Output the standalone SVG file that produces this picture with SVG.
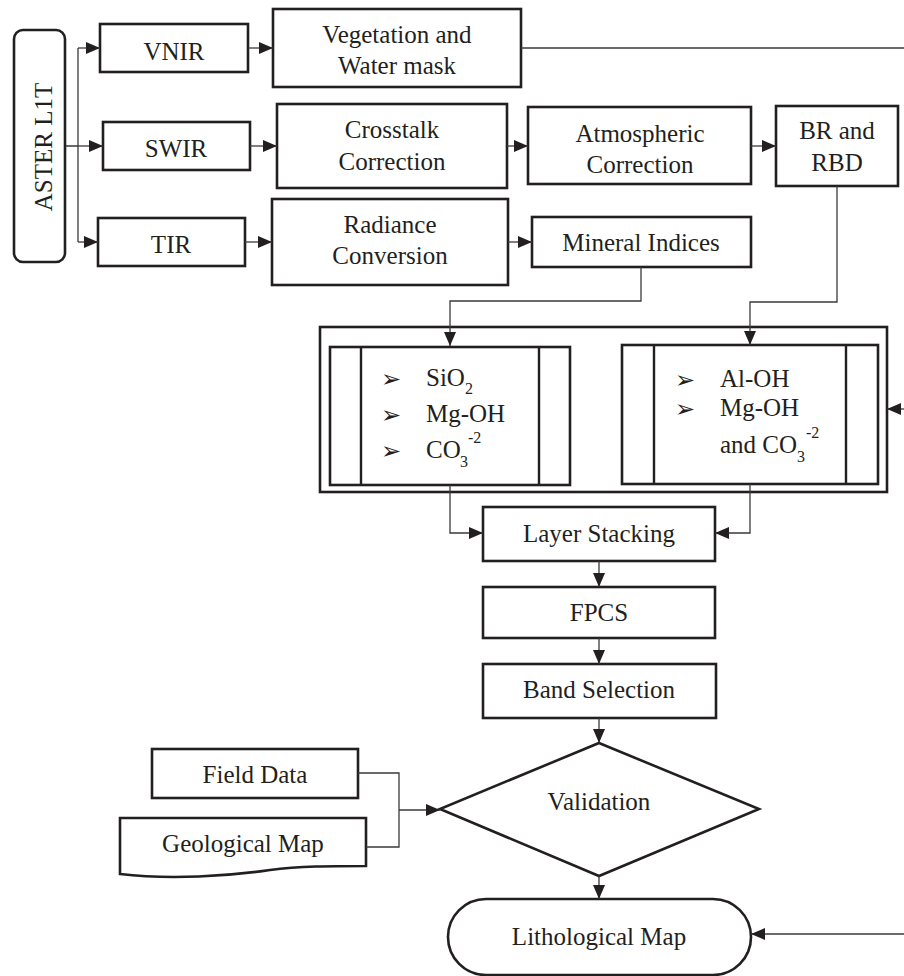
<svg xmlns="http://www.w3.org/2000/svg" width="904" height="976" viewBox="0 0 904 976">
<defs>
<style>
.box{fill:#fff;stroke:#231f20;stroke-width:2.6}
.in{fill:none;stroke:#231f20;stroke-width:2.4}
.t{font-family:"Liberation Serif","Times New Roman",serif;font-size:25px;fill:#231f20;text-anchor:middle}
.l{font-family:"Liberation Serif","Times New Roman",serif;font-size:25px;fill:#231f20}
.s{font-family:"Liberation Serif","Times New Roman",serif;font-size:16px;fill:#231f20}
.b{font-family:"DejaVu Sans",sans-serif;font-size:24px;fill:#231f20}
.c{fill:none;stroke:#3a3a3a;stroke-width:1.3}
</style>
<marker id="a" markerUnits="userSpaceOnUse" markerWidth="14" markerHeight="12" refX="14" refY="6" orient="auto">
<path d="M0,0 L14,6 L0,12 z" fill="#231f20"/>
</marker>
</defs>
<rect width="904" height="976" fill="#fff"/>

<g id="aster">
<rect class="box" x="14" y="30" width="51" height="232" rx="9"/>
<text class="t" transform="translate(52,147) rotate(-90)">ASTER L1T</text>
</g>
<g id="vnir">
<rect class="box" x="100" y="24" width="148" height="48"/>
<text class="t" x="174" y="60">VNIR</text>
</g>
<g id="swir">
<rect class="box" x="103" y="122" width="147" height="48"/>
<text class="t" x="176" y="157">SWIR</text>
</g>
<g id="tir">
<rect class="box" x="98" y="218" width="147" height="48"/>
<text class="t" x="171" y="253">TIR</text>
</g>
<g id="vegetation">
<rect class="box" x="273" y="9" width="248" height="78"/>
<text class="t" x="397" y="43">Vegetation and</text>
<text class="t" x="397" y="74">Water mask</text>
</g>
<g id="crosstalk">
<rect class="box" x="277" y="104" width="230" height="84"/>
<text class="t" x="392" y="138">Crosstalk</text>
<text class="t" x="392" y="170">Correction</text>
</g>
<g id="atmospheric">
<rect class="box" x="528" y="107" width="223" height="77"/>
<text class="t" x="640" y="142">Atmospheric</text>
<text class="t" x="640" y="173">Correction</text>
</g>
<g id="brrbd">
<rect class="box" x="776" y="106" width="122" height="80"/>
<text class="t" x="837" y="139">BR and</text>
<text class="t" x="837" y="171">RBD</text>
</g>
<g id="radiance">
<rect class="box" x="272" y="199" width="236" height="86"/>
<text class="t" x="390" y="233">Radiance</text>
<text class="t" x="390" y="264">Conversion</text>
</g>
<g id="mineral">
<rect class="box" x="532" y="217" width="219" height="50"/>
<text class="t" x="641" y="251">Mineral Indices</text>
</g>

<g id="indices-group">
<rect class="box" x="320" y="327" width="567" height="165"/>
</g>
<g id="indices-left">
<rect class="box" x="330" y="347" width="240" height="138"/>
<path class="in" d="M361,347 V485 M539,347 V485"/>
<text class="b" x="381" y="387">➢</text>
<text class="b" x="381" y="423">➢</text>
<text class="b" x="381" y="459">➢</text>
<text class="l" x="426" y="386">SiO</text>
<text class="s" x="465" y="394">2</text>
<text class="l" x="426" y="422">Mg-OH</text>
<text class="l" x="426" y="458">CO</text>
<text class="s" x="460" y="467">3</text>
<text class="s" x="468" y="443">-2</text>
</g>
<g id="indices-right">
<rect class="box" x="622" y="345" width="256" height="139"/>
<path class="in" d="M654,345 V484 M846,345 V484"/>
<text class="b" x="675" y="388">➢</text>
<text class="b" x="675" y="417">➢</text>
<text class="l" x="720" y="387">Al-OH</text>
<text class="l" x="720" y="416">Mg-OH</text>
<text class="l" x="720" y="453">and CO</text>
<text class="s" x="797" y="462">3</text>
<text class="s" x="806" y="438">-2</text>
</g>

<g id="layer-stacking">
<rect class="box" x="483" y="507" width="232" height="54"/>
<text class="t" x="599" y="542">Layer Stacking</text>
</g>
<g id="fpcs">
<rect class="box" x="483" y="587" width="232" height="51"/>
<text class="t" x="599" y="621">FPCS</text>
</g>
<g id="band-selection">
<rect class="box" x="483" y="664" width="233" height="54"/>
<text class="t" x="599" y="698">Band Selection</text>
</g>
<g id="validation">
<path class="box" d="M599,743 L759,809 L599,876 L440,809 Z"/>
<text class="t" x="599" y="810">Validation</text>
</g>
<g id="field-data">
<rect class="box" x="152" y="749" width="206" height="49"/>
<text class="t" x="255" y="783">Field Data</text>
</g>
<g id="geological-map">
<path class="box" d="M120,818 H366 V866 C330,866 300,866 270,870 C230,876 170,880 120,874 Z"/>
<text class="t" x="243" y="852">Geological Map</text>
</g>
<g id="lithological-map">
<rect class="box" x="448" y="899" width="303" height="76" rx="38"/>
<text class="t" x="599" y="945">Lithological Map</text>
</g>

<g id="connectors">
<path class="c" d="M66,146 H78 M78,48 V242" />
<path class="c" d="M78,48 H100" marker-end="url(#a)"/>
<path class="c" d="M78,146 H103" marker-end="url(#a)"/>
<path class="c" d="M78,242 H98" marker-end="url(#a)"/>
<path class="c" d="M248,48 H273" marker-end="url(#a)"/>
<path class="c" d="M250,146 H277" marker-end="url(#a)"/>
<path class="c" d="M245,242 H272" marker-end="url(#a)"/>
<path class="c" d="M521,48 H904"/>
<path class="c" d="M507,146 H528" marker-end="url(#a)"/>
<path class="c" d="M751,146 H776" marker-end="url(#a)"/>
<path class="c" d="M508,242 H532" marker-end="url(#a)"/>
<path class="c" d="M641,267 V301 H450 V346" marker-end="url(#a)"/>
<path class="c" d="M837,186 V302 H750 V345" marker-end="url(#a)"/>
<path class="c" d="M904,409 H887" marker-end="url(#a)"/>
<path class="c" d="M450,485 V533 H483" marker-end="url(#a)"/>
<path class="c" d="M750,484 V533 H715" marker-end="url(#a)"/>
<path class="c" d="M599,561 V587" marker-end="url(#a)"/>
<path class="c" d="M599,638 V664" marker-end="url(#a)"/>
<path class="c" d="M599,718 V743" marker-end="url(#a)"/>
<path class="c" d="M358,773 H399 V847 H366" />
<path class="c" d="M399,810 H440" marker-end="url(#a)"/>
<path class="c" d="M599,876 V899" marker-end="url(#a)"/>
<path class="c" d="M904,934 H751" marker-end="url(#a)"/>
</g>
</svg>
